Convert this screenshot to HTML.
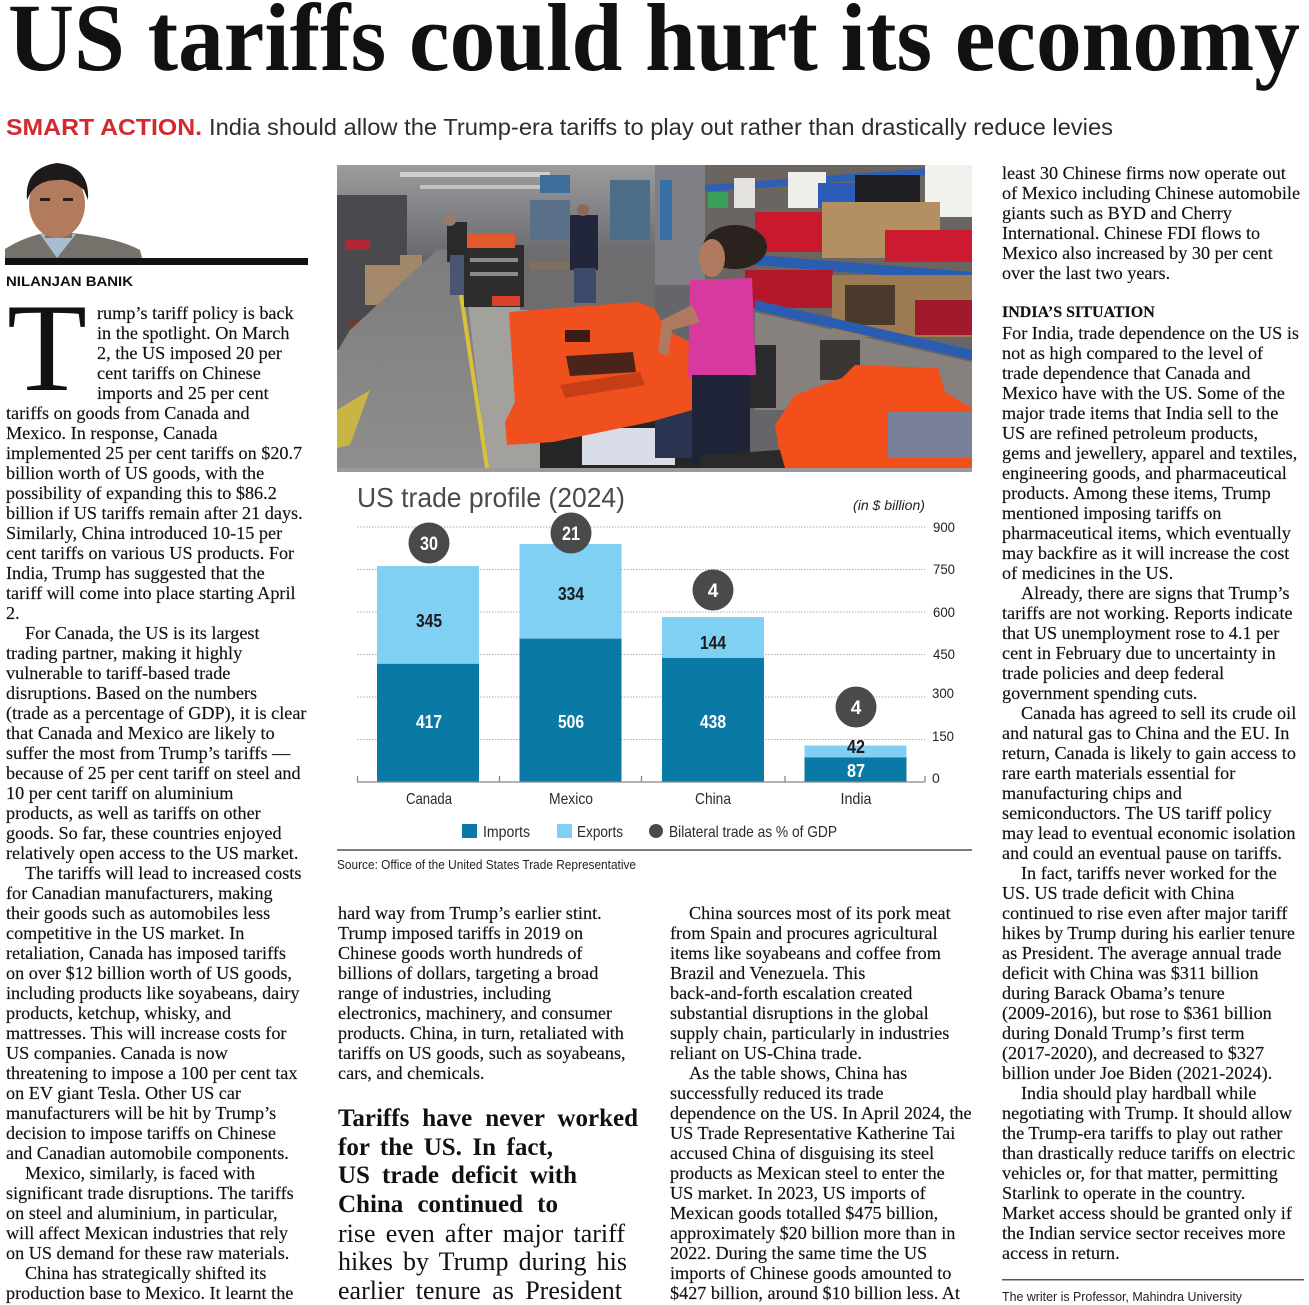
<!DOCTYPE html>
<html><head><meta charset="utf-8">
<style>
html,body{margin:0;padding:0;background:#fff;}
body{width:1309px;height:1305px;position:relative;overflow:hidden;}
svg.bg{position:absolute;left:0;top:0;}
.col{position:absolute;font-family:"Liberation Serif",serif;font-size:18.2px;line-height:20px;color:#111;white-space:nowrap;-webkit-text-stroke:0.15px #111;}
.col div{height:20px;}
.i{padding-left:19px;}
.d{padding-left:91px;}
.hd{font-weight:bold;font-size:16px;}
.pq{position:absolute;left:338px;font-family:"Liberation Serif",serif;color:#111;text-align:justify;text-align-last:justify;}
.b{font-weight:bold;font-size:25px;line-height:28px;height:28px;}
.r{font-size:26px;line-height:28px;height:28px;}
</style></head><body>
<svg class="bg" width="1309" height="1305" viewBox="0 0 1309 1305" xmlns="http://www.w3.org/2000/svg">
<defs>
<clipPath id="ph"><rect x="337" y="165" width="635" height="303"/></clipPath>
<linearGradient id="ceil" x1="0" y1="0" x2="0" y2="1"><stop offset="0" stop-color="#9c9c9e"/><stop offset="1" stop-color="#6a6b70"/></linearGradient>
<linearGradient id="flr" x1="0" y1="0" x2="0" y2="1"><stop offset="0" stop-color="#7d7c7e"/><stop offset="1" stop-color="#8f8e8c"/></linearGradient>
</defs>

<!-- Headline -->
<text x="8" y="70" font-family="Liberation Serif" font-weight="bold" font-size="96" textLength="1292" lengthAdjust="spacingAndGlyphs" fill="#111">US tariffs could hurt its economy</text>
<text x="6" y="135" font-family="Liberation Sans" font-weight="bold" font-size="23" textLength="196" lengthAdjust="spacingAndGlyphs" fill="#d32a30">SMART ACTION.</text>
<text x="209" y="135" font-family="Liberation Sans" font-size="23" textLength="904" lengthAdjust="spacingAndGlyphs" fill="#2e2e2e">India should allow the Trump-era tariffs to play out rather than drastically reduce levies</text>

<!-- Author photo -->
<path d="M5,258 L5,249 Q22,238 44,233 L72,233 Q118,238 140,250 L142,258 Z" fill="#77716c"/>
<polygon points="40,234 57,258 76,234" fill="#a9bdd2"/>
<rect x="45" y="220" width="27" height="18" fill="#9a684c"/>
<ellipse cx="57" cy="204" rx="28" ry="34" fill="#b27b5d"/>
<path d="M27,200 Q24,168 57,163 Q90,166 88,200 L84,190 Q70,178 57,180 Q40,180 31,192 Z" fill="#1e1a19"/>
<rect x="40" y="198" width="10" height="3" fill="#2a1e1a"/>
<rect x="63" y="198" width="10" height="3" fill="#2a1e1a"/>
<rect x="5" y="258" width="303" height="7" fill="#111"/>
<text x="6" y="286" font-family="Liberation Sans" font-weight="bold" font-size="14" textLength="127" lengthAdjust="spacingAndGlyphs" fill="#111">NILANJAN BANIK</text>
<text x="7" y="390" font-family="Liberation Serif" font-size="126" textLength="80" lengthAdjust="spacingAndGlyphs" fill="#111">T</text>

<!-- Factory photo -->
<g clip-path="url(#ph)">
<rect x="337" y="165" width="635" height="303" fill="#66656a"/>
<rect x="337" y="165" width="370" height="90" fill="url(#ceil)"/>
<rect x="400" y="172" width="150" height="5" fill="#d0d0d0"/>
<rect x="420" y="185" width="120" height="4" fill="#c2c2c2"/>
<rect x="337" y="196" width="50" height="6" fill="#2f5fa8"/>
<rect x="530" y="200" width="40" height="40" fill="#5a6f88"/>
<rect x="540" y="175" width="30" height="18" fill="#3d6e9a"/>
<rect x="610" y="180" width="40" height="60" fill="#4d6e86"/>
<rect x="655" y="165" width="52" height="120" fill="#7f8085"/>
<rect x="660" y="180" width="12" height="60" fill="#3a6ea6"/>
<!-- left shelving -->
<rect x="337" y="195" width="70" height="160" fill="#4a494d"/>
<rect x="345" y="240" width="25" height="10" fill="#b32434"/>
<rect x="365" y="265" width="35" height="40" fill="#a48a6a"/>
<rect x="400" y="255" width="22" height="50" fill="#a08868"/>
<rect x="350" y="320" width="40" height="30" fill="#6a3a34"/>
<rect x="337" y="350" width="14" height="80" fill="#b8a07e"/>
<!-- floor -->
<polygon points="337,352 350,330 437,250 462,250 487,468 337,468" fill="url(#flr)"/>
<polygon points="337,410 370,390 350,445 337,448" fill="#c9b446"/>
<polygon points="462,250 487,468 545,468 560,420 540,330 500,260" fill="#a3a19c"/>
<line x1="461" y1="295" x2="487" y2="468" stroke="#d8c23a" stroke-width="4"/>
<polygon points="544,425 564,468 580,468 560,420" fill="#c9b446"/>
<rect x="520" y="250" width="135" height="60" fill="#6e6c6c"/>
<rect x="530" y="262" width="40" height="8" fill="#7d7060"/>
<!-- cart left -->
<rect x="464" y="245" width="60" height="62" fill="#2f2c2c"/>
<rect x="470" y="258" width="48" height="4" fill="#8c8a88"/>
<rect x="470" y="272" width="48" height="4" fill="#8c8a88"/>
<rect x="460" y="233" width="55" height="15" fill="#e35a2a"/>
<rect x="492" y="296" width="28" height="10" fill="#d8402a"/>
<!-- people -->
<rect x="447" y="222" width="20" height="40" fill="#2a2a2c"/>
<rect x="450" y="255" width="14" height="40" fill="#4a5570"/>
<circle cx="450" cy="220" r="6" fill="#9a7a68"/>
<rect x="570" y="215" width="28" height="55" fill="#22263a"/>
<rect x="574" y="268" width="22" height="35" fill="#3a4a68"/>
<circle cx="583" cy="210" r="6" fill="#8a6a58"/>
<!-- right side -->
<rect x="705" y="165" width="267" height="175" fill="#6a6560"/>
<polygon points="705,185 972,165 972,172 705,192" fill="#2d5fb4"/>
<rect x="708" y="192" width="20" height="16" fill="#3ba05a"/>
<rect x="734" y="178" width="21" height="30" fill="#e4e2de"/>
<rect x="788" y="172" width="38" height="36" fill="#eeeeea"/>
<rect x="818" y="183" width="37" height="25" fill="#2c5cb8"/>
<rect x="855" y="175" width="65" height="30" fill="#202024"/>
<rect x="925" y="165" width="47" height="52" fill="#f1f1ee"/>
<rect x="822" y="202" width="118" height="56" fill="#b38f62"/>
<rect x="755" y="212" width="67" height="40" fill="#c81a2c"/>
<rect x="885" y="230" width="87" height="32" fill="#cc1b30"/>
<polygon points="755,255 972,272 972,282 755,265" fill="#2a5cb2"/>
<rect x="745" y="270" width="88" height="38" fill="#b3182a"/>
<rect x="832" y="275" width="140" height="62" fill="#9c7a52"/>
<rect x="845" y="285" width="50" height="40" fill="#4a3a2c"/>
<rect x="915" y="300" width="57" height="35" fill="#a01a2c"/>
<polygon points="755,300 972,350 972,360 755,310" fill="#2a5cb2"/>
<rect x="705" y="310" width="267" height="90" fill="#8a8580" opacity="0" />
<polygon points="755,312 972,362 972,410 755,410" fill="#86817c"/>
<rect x="820" y="340" width="40" height="40" fill="#3a3634"/>
<rect x="742" y="345" width="34" height="63" fill="#2a2a2c"/>
<!-- cart under frame -->
<rect x="540" y="405" width="165" height="63" fill="#262626"/>
<rect x="582" y="428" width="93" height="37" fill="#d8dde8"/>
<rect x="655" y="410" width="47" height="48" fill="#2a3350"/>
<!-- orange frame -->
<polygon points="509,312 637,302 654,308 667,330 695,345 730,368 728,400 650,422 553,442 507,445 505,422 515,402 511,342" fill="#f0501e"/>
<polygon points="566,356 633,352 636,372 570,376" fill="#4a231a"/>
<rect x="565" y="330" width="25" height="12" fill="#3a1c14"/>
<polygon points="560,385 640,372 645,385 565,398" fill="#c63e16"/>
<!-- woman -->
<ellipse cx="735" cy="247" rx="32" ry="22" fill="#2b2220"/>
<ellipse cx="712" cy="258" rx="13" ry="19" fill="#b07a60"/>
<polygon points="690,280 752,278 756,375 688,378" fill="#d8399e"/>
<polygon points="692,305 662,320 658,352 668,356 672,330 700,322" fill="#b07a60"/>
<rect x="692" y="375" width="58" height="88" fill="#1f2338"/>
<!-- bottom right orange piece -->
<polygon points="775,425 795,395 842,378 855,365 938,368 945,392 972,408 972,468 782,468" fill="#f24f1b"/>
<rect x="888" y="412" width="84" height="46" fill="#7a7f9a"/>
<polygon points="700,468 785,468 780,450 700,455" fill="#2a2a2a"/>
</g>
<rect x="337" y="468" width="635" height="4" fill="#9a9a9a"/>

<!-- Chart -->
<text x="357" y="507" font-family="Liberation Sans" font-size="28" textLength="268" lengthAdjust="spacingAndGlyphs" fill="#4a4a4a">US trade profile (2024)</text>
<text x="853" y="510" font-family="Liberation Sans" font-style="italic" font-size="14" textLength="72" lengthAdjust="spacingAndGlyphs" fill="#222">(in $ billion)</text>
<g stroke="#aaa" stroke-width="1" stroke-dasharray="1.5 1.5">
<line x1="357" y1="527" x2="925" y2="527"/>
<line x1="357" y1="569.5" x2="925" y2="569.5"/>
<line x1="357" y1="612" x2="925" y2="612"/>
<line x1="357" y1="654.5" x2="925" y2="654.5"/>
<line x1="357" y1="697" x2="925" y2="697"/>
<line x1="357" y1="739.5" x2="925" y2="739.5"/>
</g>
<g font-family="Liberation Sans" font-size="14" fill="#222">
<text x="933" y="532" textLength="22" lengthAdjust="spacingAndGlyphs">900</text>
<text x="933" y="574" textLength="22" lengthAdjust="spacingAndGlyphs">750</text>
<text x="933" y="617" textLength="22" lengthAdjust="spacingAndGlyphs">600</text>
<text x="933" y="659" textLength="22" lengthAdjust="spacingAndGlyphs">450</text>
<text x="932" y="698" textLength="22" lengthAdjust="spacingAndGlyphs">300</text>
<text x="932" y="741" textLength="22" lengthAdjust="spacingAndGlyphs">150</text>
<text x="932" y="783">0</text>
</g>
<!-- bars -->
<rect x="377" y="566.1" width="102" height="97.7" fill="#80d0f4"/>
<rect x="377" y="663.8" width="102" height="118.2" fill="#0b79a5"/>
<rect x="519.5" y="544" width="102" height="94.6" fill="#80d0f4"/>
<rect x="519.5" y="638.6" width="102" height="143.4" fill="#0b79a5"/>
<rect x="662" y="617.1" width="102" height="40.8" fill="#80d0f4"/>
<rect x="662" y="657.9" width="102" height="124.1" fill="#0b79a5"/>
<rect x="804.5" y="745.5" width="102" height="11.9" fill="#80d0f4"/>
<rect x="804.5" y="757.4" width="102" height="24.6" fill="#0b79a5"/>
<g stroke="#888" stroke-width="1.3">
<line x1="357" y1="782" x2="925" y2="782"/>
<line x1="357.5" y1="776" x2="357.5" y2="782"/>
<line x1="499.5" y1="776" x2="499.5" y2="782"/>
<line x1="641.5" y1="776" x2="641.5" y2="782"/>
<line x1="785" y1="776" x2="785" y2="782"/>
<line x1="925" y1="776" x2="925" y2="782"/>
</g>
<g font-family="Liberation Sans" font-weight="bold" font-size="18" text-anchor="middle">
<text x="429" y="627" fill="#1a1a1a" textLength="26" lengthAdjust="spacingAndGlyphs">345</text>
<text x="429" y="728" fill="#fff" textLength="26" lengthAdjust="spacingAndGlyphs">417</text>
<text x="571" y="600" fill="#1a1a1a" textLength="26" lengthAdjust="spacingAndGlyphs">334</text>
<text x="571" y="728" fill="#fff" textLength="26" lengthAdjust="spacingAndGlyphs">506</text>
<text x="713" y="649" fill="#1a1a1a" textLength="26" lengthAdjust="spacingAndGlyphs">144</text>
<text x="713" y="728" fill="#fff" textLength="26" lengthAdjust="spacingAndGlyphs">438</text>
<text x="856" y="753" fill="#1a1a1a" textLength="18" lengthAdjust="spacingAndGlyphs">42</text>
<text x="856" y="777" fill="#fff" textLength="18" lengthAdjust="spacingAndGlyphs">87</text>
</g>
<g fill="#4a4a4a">
<circle cx="429" cy="543" r="20.5"/>
<circle cx="571" cy="533" r="20.5"/>
<circle cx="713" cy="590" r="20.5"/>
<circle cx="856" cy="707" r="20.5"/>
</g>
<g font-family="Liberation Sans" font-weight="bold" font-size="19" fill="#fff" text-anchor="middle">
<text x="429" y="550" textLength="18" lengthAdjust="spacingAndGlyphs">30</text>
<text x="571" y="540" textLength="18" lengthAdjust="spacingAndGlyphs">21</text>
<text x="713" y="597">4</text>
<text x="856" y="714">4</text>
</g>
<g font-family="Liberation Sans" font-size="16" fill="#2a2a2a" text-anchor="middle">
<text x="429" y="804" textLength="46" lengthAdjust="spacingAndGlyphs">Canada</text>
<text x="571" y="804" textLength="44" lengthAdjust="spacingAndGlyphs">Mexico</text>
<text x="713" y="804" textLength="36" lengthAdjust="spacingAndGlyphs">China</text>
<text x="856" y="804" textLength="31" lengthAdjust="spacingAndGlyphs">India</text>
</g>
<rect x="462" y="824" width="15" height="14" fill="#0b79a5"/>
<text x="483" y="837" font-family="Liberation Sans" font-size="16" fill="#2a2a2a" textLength="47" lengthAdjust="spacingAndGlyphs">Imports</text>
<rect x="557" y="824" width="15" height="14" fill="#80d0f4"/>
<text x="577" y="837" font-family="Liberation Sans" font-size="16" fill="#2a2a2a" textLength="46" lengthAdjust="spacingAndGlyphs">Exports</text>
<circle cx="656" cy="831" r="7" fill="#4a4a4a"/>
<text x="669" y="837" font-family="Liberation Sans" font-size="16" fill="#2a2a2a" textLength="168" lengthAdjust="spacingAndGlyphs">Bilateral trade as % of GDP</text>
<rect x="337" y="849" width="635" height="2" fill="#7d7d7d"/>
<text x="337" y="869" font-family="Liberation Sans" font-size="13" fill="#222" textLength="299" lengthAdjust="spacingAndGlyphs">Source: Office of the United States Trade Representative</text>

<!-- writer note -->
<rect x="1002" y="1279" width="302" height="1.5" fill="#555"/>
<text x="1002" y="1301" font-family="Liberation Sans" font-size="13" fill="#222" textLength="240" lengthAdjust="spacingAndGlyphs">The writer is Professor, Mahindra University</text>
</svg>

<!-- Left column -->
<div class="col" style="left:6px;top:303.2px;">
<div class="d">rump’s tariff policy is back</div>
<div class="d">in the spotlight. On March</div>
<div class="d">2, the US imposed 20 per</div>
<div class="d">cent tariffs on Chinese</div>
<div class="d">imports and 25 per cent</div>
<div>tariffs on goods from Canada and</div>
<div>Mexico. In response, Canada</div>
<div>implemented 25 per cent tariffs on $20.7</div>
<div>billion worth of US goods, with the</div>
<div>possibility of expanding this to $86.2</div>
<div>billion if US tariffs remain after 21 days.</div>
<div>Similarly, China introduced 10-15 per</div>
<div>cent tariffs on various US products. For</div>
<div>India, Trump has suggested that the</div>
<div>tariff will come into place starting April</div>
<div>2.</div>
<div class="i">For Canada, the US is its largest</div>
<div>trading partner, making it highly</div>
<div>vulnerable to tariff-based trade</div>
<div>disruptions. Based on the numbers</div>
<div>(trade as a percentage of GDP), it is clear</div>
<div>that Canada and Mexico are likely to</div>
<div>suffer the most from Trump’s tariffs —</div>
<div>because of 25 per cent tariff on steel and</div>
<div>10 per cent tariff on aluminium</div>
<div>products, as well as tariffs on other</div>
<div>goods. So far, these countries enjoyed</div>
<div>relatively open access to the US market.</div>
<div class="i">The tariffs will lead to increased costs</div>
<div>for Canadian manufacturers, making</div>
<div>their goods such as automobiles less</div>
<div>competitive in the US market. In</div>
<div>retaliation, Canada has imposed tariffs</div>
<div>on over $12 billion worth of US goods,</div>
<div>including products like soyabeans, dairy</div>
<div>products, ketchup, whisky, and</div>
<div>mattresses. This will increase costs for</div>
<div>US companies. Canada is now</div>
<div>threatening to impose a 100 per cent tax</div>
<div>on EV giant Tesla. Other US car</div>
<div>manufacturers will be hit by Trump’s</div>
<div>decision to impose tariffs on Chinese</div>
<div>and Canadian automobile components.</div>
<div class="i">Mexico, similarly, is faced with</div>
<div>significant trade disruptions. The tariffs</div>
<div>on steel and aluminium, in particular,</div>
<div>will affect Mexican industries that rely</div>
<div>on US demand for these raw materials.</div>
<div class="i">China has strategically shifted its</div>
<div>production base to Mexico. It learnt the</div>
</div>

<!-- Middle column 1 -->
<div class="col" style="left:338px;top:903.2px;">
<div>hard way from Trump’s earlier stint.</div>
<div>Trump imposed tariffs in 2019 on</div>
<div>Chinese goods worth hundreds of</div>
<div>billions of dollars, targeting a broad</div>
<div>range of industries, including</div>
<div>electronics, machinery, and consumer</div>
<div>products. China, in turn, retaliated with</div>
<div>tariffs on US goods, such as soyabeans,</div>
<div>cars, and chemicals.</div>
</div>

<!-- Pull quote -->
<div class="pq b" style="top:1104.9px;width:300px;">Tariffs have never worked</div>
<div class="pq b" style="top:1134.3px;width:215px;">for the US. In fact,</div>
<div class="pq b" style="top:1162.3px;width:239px;">US trade deficit with</div>
<div class="pq b" style="top:1190.9px;width:220px;">China continued to</div>
<div class="pq r" style="top:1219.9px;width:287px;">rise even after major tariff</div>
<div class="pq r" style="top:1248.2px;width:289px;">hikes by Trump during his</div>
<div class="pq r" style="top:1276.5px;width:284px;">earlier tenure as President</div>

<!-- Middle column 2 -->
<div class="col" style="left:670px;top:903.2px;">
<div class="i">China sources most of its pork meat</div>
<div>from Spain and procures agricultural</div>
<div>items like soyabeans and coffee from</div>
<div>Brazil and Venezuela. This</div>
<div>back-and-forth escalation created</div>
<div>substantial disruptions in the global</div>
<div>supply chain, particularly in industries</div>
<div>reliant on US-China trade.</div>
<div class="i">As the table shows, China has</div>
<div>successfully reduced its trade</div>
<div>dependence on the US. In April 2024, the</div>
<div>US Trade Representative Katherine Tai</div>
<div>accused China of disguising its steel</div>
<div>products as Mexican steel to enter the</div>
<div>US market. In 2023, US imports of</div>
<div>Mexican goods totalled $475 billion,</div>
<div>approximately $20 billion more than in</div>
<div>2022. During the same time the US</div>
<div>imports of Chinese goods amounted to</div>
<div>$427 billion, around $10 billion less. At</div>
</div>

<!-- Right column -->
<div class="col" style="left:1002px;top:163.2px;">
<div>least 30 Chinese firms now operate out</div>
<div>of Mexico including Chinese automobile</div>
<div>giants such as BYD and Cherry</div>
<div>International. Chinese FDI flows to</div>
<div>Mexico also increased by 30 per cent</div>
<div>over the last two years.</div>
<div></div>
<div class="hd">INDIA’S SITUATION</div>
<div>For India, trade dependence on the US is</div>
<div>not as high compared to the level of</div>
<div>trade dependence that Canada and</div>
<div>Mexico have with the US. Some of the</div>
<div>major trade items that India sell to the</div>
<div>US are refined petroleum products,</div>
<div>gems and jewellery, apparel and textiles,</div>
<div>engineering goods, and pharmaceutical</div>
<div>products. Among these items, Trump</div>
<div>mentioned imposing tariffs on</div>
<div>pharmaceutical items, which eventually</div>
<div>may backfire as it will increase the cost</div>
<div>of medicines in the US.</div>
<div class="i">Already, there are signs that Trump’s</div>
<div>tariffs are not working. Reports indicate</div>
<div>that US unemployment rose to 4.1 per</div>
<div>cent in February due to uncertainty in</div>
<div>trade policies and deep federal</div>
<div>government spending cuts.</div>
<div class="i">Canada has agreed to sell its crude oil</div>
<div>and natural gas to China and the EU. In</div>
<div>return, Canada is likely to gain access to</div>
<div>rare earth materials essential for</div>
<div>manufacturing chips and</div>
<div>semiconductors. The US tariff policy</div>
<div>may lead to eventual economic isolation</div>
<div>and could an eventual pause on tariffs.</div>
<div class="i">In fact, tariffs never worked for the</div>
<div>US. US trade deficit with China</div>
<div>continued to rise even after major tariff</div>
<div>hikes by Trump during his earlier tenure</div>
<div>as President. The average annual trade</div>
<div>deficit with China was $311 billion</div>
<div>during Barack Obama’s tenure</div>
<div>(2009-2016), but rose to $361 billion</div>
<div>during Donald Trump’s first term</div>
<div>(2017-2020), and decreased to $327</div>
<div>billion under Joe Biden (2021-2024).</div>
<div class="i">India should play hardball while</div>
<div>negotiating with Trump. It should allow</div>
<div>the Trump-era tariffs to play out rather</div>
<div>than drastically reduce tariffs on electric</div>
<div>vehicles or, for that matter, permitting</div>
<div>Starlink to operate in the country.</div>
<div>Market access should be granted only if</div>
<div>the Indian service sector receives more</div>
<div>access in return.</div>
</div>
</body></html>
